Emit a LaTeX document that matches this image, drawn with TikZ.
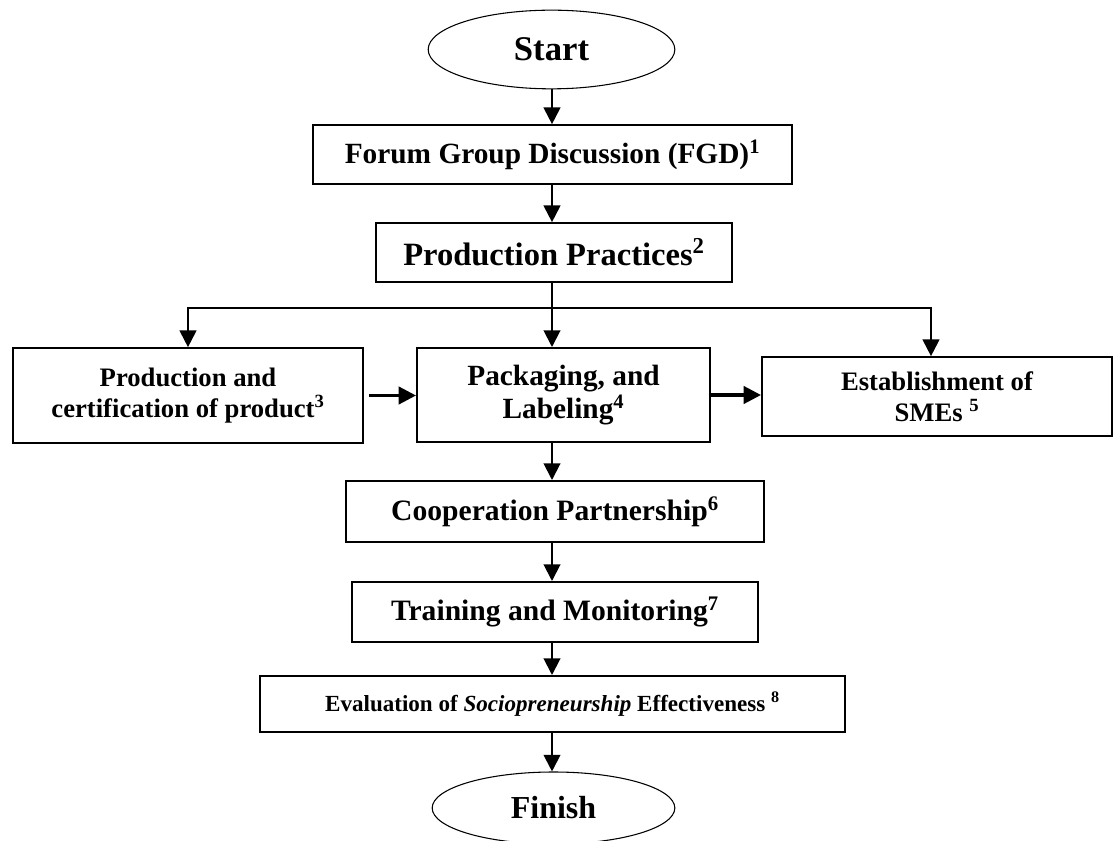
\documentclass[tikz,border=0pt]{standalone}
\usepackage{fontspec}
\setmainfont{Liberation Serif}
\usetikzlibrary{arrows.meta,shapes.geometric}
\begin{document}
\begin{tikzpicture}[x=0.75pt,y=-0.75pt,
  box/.style={draw,line width=1.5pt,rectangle,inner sep=0pt,align=center,font=\bfseries},
  oval/.style={draw,line width=0.8pt,ellipse,inner sep=0pt,font=\bfseries\fontsize{26}{30}\selectfont},
  arr/.style={line width=1.5pt,-{Triangle[length=12.5pt,width=12.5pt]}},
  harr/.style={line width=2.3pt,-{Triangle[length=13pt,width=13pt]}}]
\useasboundingbox (0,0) rectangle (1117,841);
\node[oval,minimum width=185pt,minimum height=59pt] (start) at (551.5,49.5) {Start};
\node[box,minimum width=359pt,minimum height=44pt,font=\bfseries\fontsize{22}{26}\selectfont] (fgd) at (552.5,154.5) {Forum Group Discussion (FGD)\textsuperscript{1}};
\node[box,minimum width=267pt,minimum height=44pt,font=\bfseries\fontsize{24.4}{28}\selectfont] (pp) at (554,252.5) {Production Practices\textsuperscript{2}};
\node[box,minimum width=262.5pt,minimum height=71pt,font=\bfseries\fontsize{20}{23}\selectfont] (left) at (188,395.5) {Production and\\certification of product\textsuperscript{3}};
\node[box,minimum width=219.75pt,minimum height=70.5pt,font=\bfseries\fontsize{22}{25}\selectfont] (mid) at (563.5,395) {Packaging, and\\Labeling\textsuperscript{4}};
\node[box,minimum width=262.5pt,minimum height=59pt,font=\bfseries\fontsize{20}{23}\selectfont] (right) at (937,396.5) {Establishment of\\SMEs \textsuperscript{5}};
\node[box,minimum width=313.5pt,minimum height=45.75pt,font=\bfseries\fontsize{22.2}{26}\selectfont] (coop) at (555,511.5) {Cooperation Partnership\textsuperscript{6}};
\node[box,minimum width=304.5pt,minimum height=45pt,font=\bfseries\fontsize{22.2}{26}\selectfont] (train) at (555,612) {Training and Monitoring\textsuperscript{7}};
\node[box,minimum width=438.75pt,minimum height=42pt,font=\bfseries\fontsize{17.3}{20}\selectfont] (eval) at (552.5,704) {Evaluation of \textit{Sociopreneurship} Effectiveness \textsuperscript{8}};
\node[oval,minimum width=182pt,minimum height=54pt,font=\bfseries\fontsize{24}{28}\selectfont] (finish) at (553.5,808) {Finish};
\coordinate (col) at (552,0);
\coordinate (br) at (552,308);
\draw[arr] (col |- start.south) -- (col |- fgd.north);
\draw[arr] (col |- fgd.south) -- (col |- pp.north);
\draw[arr] (col |- pp.south) -- (col |- mid.north);
\draw[arr] (br) -| (left.north);
\draw[arr] (br) -| ([xshift=-4.5pt]right.north);
\draw[harr,shorten <=4pt] (left.east) -- (left.east -| mid.west);
\draw[harr] (mid.east) -- (mid.east -| right.west);
\draw[arr] (col |- mid.south) -- (col |- coop.north);
\draw[arr] (col |- coop.south) -- (col |- train.north);
\draw[arr] (col |- train.south) -- (col |- eval.north);
\draw[arr] (col |- eval.south) -- (col |- finish.north);
\end{tikzpicture}
\end{document}
